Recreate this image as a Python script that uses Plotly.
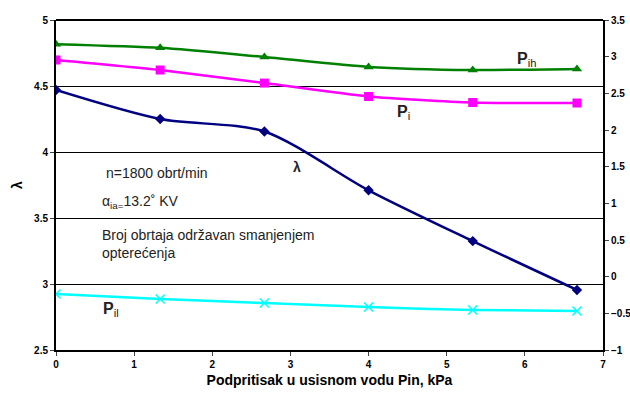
import plotly.graph_objects as go

x_pin = [0, 1.333, 2.667, 4, 5.333, 6.667]
lam = [4.47, 4.25, 4.155, 3.71, 3.325, 2.955]
p_ih = [3.17, 3.12, 2.995, 2.86, 2.818, 2.832]
p_i = [2.955, 2.818, 2.64, 2.457, 2.375, 2.368]
p_il = [-0.236, -0.305, -0.36, -0.414, -0.455, -0.468]

left_ticks = [2.5, 3, 3.5, 4, 4.5, 5]
right_ticks = [-1, -0.5, 0, 0.5, 1, 1.5, 2, 2.5, 3, 3.5]
x_ticks = [0, 1, 2, 3, 4, 5, 6, 7]

font = "Liberation Sans, Arial, sans-serif"

fig = go.Figure()
fig.add_trace(go.Scatter(x=x_pin, y=p_ih, yaxis="y2", mode="lines+markers",
                         line=dict(color="#008000", width=2.5, shape="spline", smoothing=0.6),
                         marker=dict(symbol="triangle-up", size=9, color="#008000")))
fig.add_trace(go.Scatter(x=x_pin, y=p_i, yaxis="y2", mode="lines+markers",
                         line=dict(color="#FF00FF", width=2.5, shape="spline", smoothing=0.6),
                         marker=dict(symbol="square", size=9, color="#FF00FF")))
fig.add_trace(go.Scatter(x=x_pin, y=p_il, yaxis="y2", mode="lines+markers",
                         line=dict(color="#00FFFF", width=2.5, shape="spline", smoothing=0.6),
                         marker=dict(symbol="x-thin", size=9, color="#00FFFF",
                                     line=dict(color="#00FFFF", width=1.5))))
fig.add_trace(go.Scatter(x=x_pin, y=lam, mode="lines+markers",
                         line=dict(color="#000080", width=2.5, shape="spline", smoothing=0.8),
                         marker=dict(symbol="diamond", size=8, color="#000080")))

ann = [
    dict(x=0.62, y=3.84, text="n=1800 obrt/min", xanchor="left", size=14),
    dict(x=0.56, y=3.62, text="α<sub>ia=</sub>13.2˚ KV", xanchor="left", size=14),
    dict(x=0.56, y=3.30, text="Broj obrtaja održavan smanjenjem<br>opterećenja", xanchor="left", size=14),
    dict(x=3.08, y=3.89, text="<b>λ</b>", xanchor="center", size=14),
    dict(x=6.02, y=4.70, text="<b>P</b><sub>ih</sub>", xanchor="center", size=16),
    dict(x=4.45, y=4.30, text="<b>P</b><sub>i</sub>", xanchor="center", size=16),
    dict(x=0.7, y=2.81, text="<b>P</b><sub>il</sub>", xanchor="center", size=16),
]
annotations = []
for a in ann:
    annotations.append(dict(x=a["x"], y=a["y"], xref="x", yref="y", text=a["text"],
                            showarrow=False, xanchor=a["xanchor"], yanchor="middle", align="left",
                            font=dict(family=font, size=a["size"], color="#222")))

tickfont = dict(size=10, family=font, weight="bold")
fig.update_layout(
    width=630, height=397,
    margin=dict(l=56, r=27, t=20, b=47),
    paper_bgcolor="white", plot_bgcolor="white",
    showlegend=False,
    font=dict(family=font, color="black"),
    annotations=annotations,
    xaxis=dict(range=[0, 7], tickvals=x_ticks, showgrid=False, zeroline=False, automargin=False,
               showline=True, linecolor="black", linewidth=2, ticks="outside", ticklen=4,
               tickfont=tickfont,
               title=dict(text="<b>Podpritisak u usisnom vodu Pin, kPa</b>", font=dict(size=14, family=font),
                          standoff=6)),
    yaxis=dict(range=[2.5, 5], tickvals=left_ticks, showgrid=True, gridcolor="black", gridwidth=1,
               zeroline=False, showline=True, linecolor="black", linewidth=2, ticks="outside", ticklen=4,
               tickfont=tickfont, automargin=False,
               title=dict(text="<b>λ</b>", font=dict(size=14, family=font), standoff=8)),
    yaxis2=dict(range=[-1, 3.5], tickvals=right_ticks, overlaying="y", side="right", showgrid=False,
                zeroline=False, showline=True, linecolor="black", linewidth=2, ticks="outside", ticklen=4,
                tickfont=tickfont, automargin=False),
    shapes=[dict(type="line", xref="paper", yref="paper", x0=0, x1=1, y0=1, y1=1,
                 line=dict(color="black", width=2))],
)

fig.write_html("out.html")
